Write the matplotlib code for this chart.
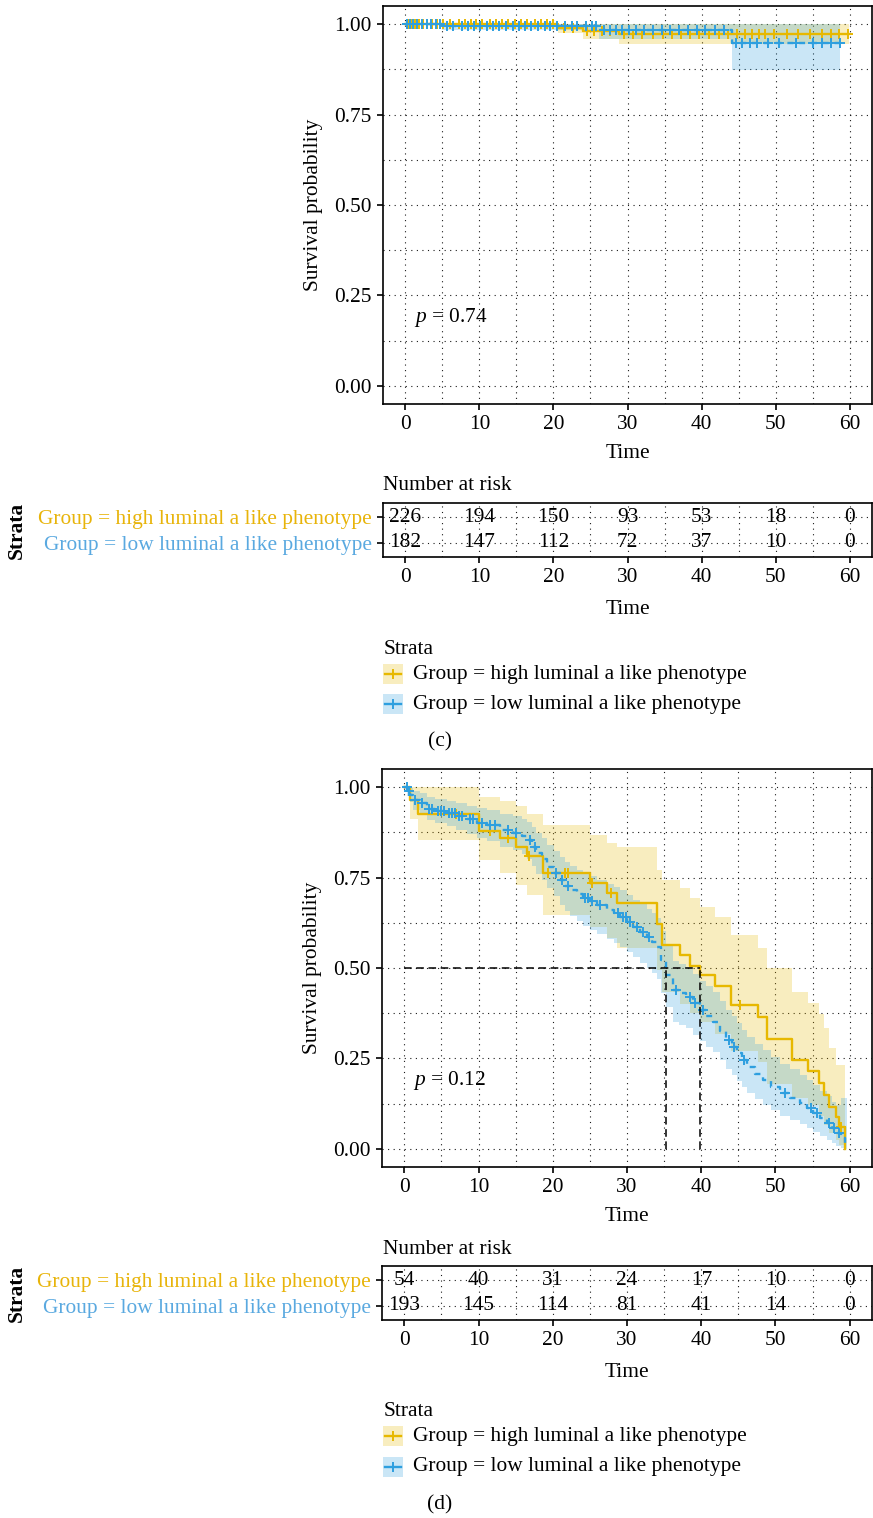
import numpy as np
import matplotlib
matplotlib.use("Agg")
import matplotlib.pyplot as plt
from matplotlib.patches import Rectangle

plt.rcParams['font.family'] = ['Liberation Serif', 'DejaVu Serif']
plt.rcParams['mathtext.fontset'] = 'custom'
plt.rcParams['mathtext.it'] = 'Liberation Serif:italic'
plt.rcParams['mathtext.rm'] = 'Liberation Serif'

# ---------------- data ----------------
group_labels = ["Group = high luminal a like phenotype",
                "Group = low luminal a like phenotype"]
risk_times = [0, 10, 20, 30, 40, 50, 60]

# Panel (c)
c_high_t = [0, 20.6, 24.0, 28.9]
c_high_s = [1.0, 0.988, 0.982, 0.972]
c_high_lo = [1.0, 0.975, 0.960, 0.944]
c_high_up = [1.0, 1.0, 1.0, 1.0]
c_high_end = 59.9
c_high_cens = [0.4, 0.8, 1.3, 1.8, 2.4, 3.0, 3.6, 4.3, 5.1, 6.0, 7.2, 8.0, 8.9, 9.6,
               10.4, 11.5, 12.3, 13.1, 13.9, 14.8, 15.6, 16.4, 17.5, 18.3, 19.1, 19.9,
               21.4, 22.6, 24.6, 25.5, 26.6, 27.7, 29.5, 30.8, 32.0, 33.5, 34.8, 36.0,
               37.2, 38.5, 39.7, 41.0, 42.3, 43.6, 44.8, 45.9, 46.8, 47.7, 48.6, 49.8,
               51.5, 53.0, 54.6, 56.2, 57.4, 58.5, 59.8]

c_low_t = [0, 5.0, 26.1, 44.1]
c_low_s = [1.0, 0.995, 0.985, 0.947]
c_low_lo = [1.0, 0.985, 0.958, 0.873]
c_low_up = [1.0, 1.0, 1.0, 1.0]
c_low_end = 58.7
c_low_cens = [0.2, 0.7, 1.1, 1.6, 2.2, 2.9, 3.5, 4.2, 4.7, 5.6, 6.4, 7.6, 8.5, 9.3,
              10.1, 11.0, 11.8, 12.7, 13.6, 14.5, 15.3, 16.2, 17.0, 17.9, 18.8, 19.6,
              20.5, 21.6, 22.5, 23.2, 24.4, 25.2, 25.8, 26.8, 27.6, 28.4, 29.3, 30.2,
              31.1, 32.2, 33.4, 34.6, 35.8, 37.0, 38.1, 39.4, 40.5, 41.8, 43.0, 44.6,
              45.5, 46.6, 47.5, 48.9, 50.4, 52.8, 55.0, 56.3, 57.5, 58.7]

c_risk_high = [226, 194, 150, 93, 53, 18, 0]
c_risk_low = [182, 147, 112, 72, 37, 10, 0]
c_pval = "0.74"

# Panel (d)
d_high_t = [0, 0.8, 1.9, 10.0, 12.9, 15.1, 16.5, 18.7, 25.0, 27.3, 28.6, 34.0, 34.7,
            37.1, 38.5, 39.8, 41.8, 44.0, 47.7, 48.8, 52.2, 54.4, 55.9, 56.6, 57.2,
            58.2, 58.5, 59.3]
d_high_s = [1.0, 0.963, 0.926, 0.880, 0.858, 0.835, 0.809, 0.762, 0.734, 0.706, 0.679,
            0.622, 0.564, 0.536, 0.505, 0.480, 0.450, 0.398, 0.365, 0.303, 0.246,
            0.214, 0.181, 0.149, 0.117, 0.089, 0.061, 0.0]
d_high_lo = [1.0, 0.913, 0.854, 0.798, 0.762, 0.729, 0.702, 0.646, 0.614, 0.584, 0.556,
             0.495, 0.435, 0.400, 0.375, 0.350, 0.318, 0.270, 0.240, 0.180, 0.140,
             0.120, 0.090, 0.065, 0.045, 0.025, 0.010, 0.0]
d_high_up = [1.0, 1.0, 1.0, 0.973, 0.962, 0.948, 0.927, 0.895, 0.867, 0.845, 0.835,
             0.771, 0.743, 0.720, 0.693, 0.669, 0.642, 0.590, 0.556, 0.500, 0.435,
             0.402, 0.374, 0.334, 0.280, 0.232, 0.232, 0.0]
d_high_end = 59.3
d_high_cens = [7.0, 11.5, 14.0, 16.8, 19.3, 21.6, 22.0, 25.3, 27.9, 45.2, 58.8]

d_low_t = [0, 0.4, 0.8, 1.2, 2.1, 3.0, 4.2, 5.7, 7.0, 8.4, 9.8, 11.1, 12.9, 14.7,
           15.8, 16.5, 17.2, 17.8, 18.5, 19.2, 20.1, 21.0, 21.7, 22.3, 23.2, 24.1,
           25.0, 25.9, 27.3, 28.2, 29.1, 30.0, 30.8, 31.8, 32.7, 33.4, 34.0, 34.6,
           35.2, 36.2, 37.0, 38.0, 38.9, 39.8, 40.7, 41.6, 42.5, 43.4, 44.1, 44.8,
           45.5, 46.1, 47.2, 48.3, 49.4, 50.6, 52.0, 53.3, 54.2, 55.1, 56.0, 56.9,
           57.6, 58.2, 58.8, 59.3]
d_low_s = [1.0, 0.990, 0.978, 0.964, 0.955, 0.940, 0.934, 0.928, 0.920, 0.911, 0.900,
           0.895, 0.881, 0.874, 0.864, 0.853, 0.835, 0.817, 0.800, 0.780, 0.762, 0.743,
           0.728, 0.715, 0.704, 0.693, 0.684, 0.674, 0.660, 0.651, 0.642, 0.628, 0.614,
           0.600, 0.586, 0.573, 0.559, 0.522, 0.481, 0.439, 0.430, 0.421, 0.402, 0.384,
           0.368, 0.352, 0.327, 0.301, 0.283, 0.264, 0.245, 0.227, 0.208, 0.190, 0.172,
           0.154, 0.140, 0.126, 0.112, 0.099, 0.085, 0.071, 0.057, 0.043, 0.030, 0.015]
d_low_lo = [1.0, 0.975, 0.958, 0.938, 0.926, 0.908, 0.900, 0.892, 0.882, 0.871, 0.858,
            0.852, 0.835, 0.826, 0.814, 0.801, 0.781, 0.761, 0.742, 0.720, 0.700, 0.675,
            0.658, 0.643, 0.630, 0.617, 0.606, 0.594, 0.579, 0.569, 0.559, 0.545, 0.530,
            0.515, 0.500, 0.486, 0.470, 0.432, 0.392, 0.352, 0.343, 0.334, 0.316, 0.298,
            0.283, 0.268, 0.245, 0.221, 0.204, 0.187, 0.170, 0.154, 0.138, 0.122, 0.107,
            0.092, 0.081, 0.069, 0.057, 0.047, 0.036, 0.026, 0.017, 0.009, 0.003, 0.0]
d_low_up = [1.0, 1.0, 0.998, 0.990, 0.985, 0.972, 0.968, 0.962, 0.956, 0.949, 0.941,
            0.937, 0.926, 0.921, 0.913, 0.904, 0.889, 0.873, 0.858, 0.840, 0.824, 0.807,
            0.793, 0.781, 0.771, 0.761, 0.753, 0.744, 0.731, 0.723, 0.715, 0.702, 0.689,
            0.676, 0.663, 0.651, 0.638, 0.602, 0.562, 0.520, 0.511, 0.502, 0.483, 0.465,
            0.450, 0.434, 0.410, 0.385, 0.367, 0.348, 0.329, 0.310, 0.290, 0.272, 0.253,
            0.235, 0.220, 0.205, 0.190, 0.176, 0.160, 0.145, 0.130, 0.120, 0.140, 0.140]
d_low_end = 59.6
d_low_cens = [0.3, 0.6, 1.5, 2.4, 3.3, 3.8, 4.5, 5.0, 5.3, 6.0, 6.4, 6.8, 7.4, 7.8,
              8.8, 9.2, 10.5, 11.5, 12.2, 14.0, 15.0, 17.0, 17.6, 20.5, 21.3, 22.0,
              24.4, 24.8, 25.3, 26.3, 28.8, 29.4, 29.8, 30.4, 31.3, 32.2, 33.0, 36.6,
              38.5, 39.2, 40.3, 43.7, 44.4, 45.8, 51.3, 54.8, 55.6, 57.2, 57.9, 58.5]

d_risk_high = [54, 40, 31, 24, 17, 10, 0]
d_risk_low = [193, 145, 114, 81, 41, 14, 0]
d_pval = "0.12"

# ---------------- styling ----------------
COL_HIGH = "#E7B800"
COL_LOW = "#2E9FDF"
TXT_HIGH = "#E8B40A"
TXT_LOW = "#5AA9E0"
FS = 15.4
GRID_LS = (0, (1, 4))

W, H = 873, 1518
fig = plt.figure(figsize=(W / 100, H / 100), dpi=100)


def rect(x0, y0, x1, y1):
    return [x0 / W, 1 - y1 / H, (x1 - x0) / W, (y1 - y0) / H]


def step_value(t, s, when):
    idx = np.searchsorted(np.asarray(t), np.asarray(when), side='right') - 1
    return np.asarray(s)[idx]


def style_axes(ax):
    for sp in ax.spines.values():
        sp.set_linewidth(1.2)
        sp.set_color('black')
    ax.tick_params(which='major', length=4, width=1.2, labelsize=FS, color='black',
                   pad=4)
    ax.tick_params(which='minor', length=0)


def km_axes(box, groups, pval, median=False):
    ax = fig.add_axes(rect(*box))
    ax.set_xlim(-3, 63)
    ax.set_ylim(-0.05, 1.05)
    ax.set_xticks(risk_times)
    ax.set_xticks([5, 15, 25, 35, 45, 55], minor=True)
    ax.set_yticks([0, 0.25, 0.5, 0.75, 1.0])
    ax.set_yticklabels(["0.00", "0.25", "0.50", "0.75", "1.00"])
    ax.set_yticks([0.125, 0.375, 0.625, 0.875], minor=True)
    ax.grid(which='both', color='black', linestyle=GRID_LS, linewidth=0.8, alpha=0.9)
    ax.set_axisbelow(True)
    style_axes(ax)
    medians = []
    for t, s, lo, up, end, cens, col, ls in groups:
        te = list(t) + [end]
        ax.fill_between(te, list(lo) + [lo[-1]], list(up) + [up[-1]], step='post',
                        color=col, alpha=0.25, linewidth=0, zorder=2)
    for t, s, lo, up, end, cens, col, ls in groups:
        te = list(t) + [end]
        se = list(s) + [s[-1]]
        ax.step(te, se, where='post', color=col, linewidth=1.7, linestyle=ls, zorder=3)
        ax.plot(cens, step_value(t, s, cens), linestyle='none', marker='+',
                markersize=7, markeredgewidth=1.4, color=col, zorder=4)
        below = [ti for ti, si in zip(t, s) if si <= 0.5]
        if below:
            medians.append(below[0])
    if median and medians:
        ax.plot([0, max(medians)], [0.5, 0.5], color='black', linestyle=(0, (5, 3)),
                linewidth=1.1, zorder=5)
        for m in medians:
            ax.plot([m, m], [0, 0.5], color='black', linestyle=(0, (5, 3)),
                    linewidth=1.1, zorder=5)
    ax.text(1.2, 0.19, "$p$ = " + pval, fontsize=FS, ha='left', va='center', zorder=6)
    ax.set_xlabel("Time", fontsize=FS, labelpad=7)
    ax.set_ylabel("Survival probability", fontsize=FS, labelpad=8)
    return ax


def risk_axes(box, high, low, title_y):
    ax = fig.add_axes(rect(*box))
    ax.set_xlim(-3, 63)
    ax.set_ylim(0.46, 2.54)
    ax.set_xticks(risk_times)
    ax.set_xticks([5, 15, 25, 35, 45, 55], minor=True)
    ax.set_yticks([2, 1])
    ax.set_yticklabels(group_labels)
    for lab, c in zip(ax.get_yticklabels(), [TXT_HIGH, TXT_LOW]):
        lab.set_color(c)
    ax.grid(which='both', color='black', linestyle=GRID_LS, linewidth=0.8, alpha=0.9)
    ax.set_axisbelow(True)
    style_axes(ax)
    for tx, a, b in zip(risk_times, high, low):
        ax.text(tx, 2, str(a), ha='center', va='center', fontsize=FS, zorder=3)
        ax.text(tx, 1, str(b), ha='center', va='center', fontsize=FS, zorder=3)
    ax.set_xlabel("Time", fontsize=FS, labelpad=9)
    ax.set_ylabel("Strata", fontsize=FS, fontweight='bold')
    ax.yaxis.set_label_coords((27 - box[0]) / (box[2] - box[0]), 0.5)
    fig.text(383 / W, 1 - title_y / H, "Number at risk", fontsize=FS,
             ha='left', va='center')
    return ax


# Panel (c)
km_axes((383, 6, 872, 404),
        [(c_high_t, c_high_s, c_high_lo, c_high_up, c_high_end, c_high_cens, COL_HIGH, '-'),
         (c_low_t, c_low_s, c_low_lo, c_low_up, c_low_end, c_low_cens, COL_LOW, (0, (2.5, 2.5)))],
        c_pval)
risk_axes((383, 503, 872, 557), c_risk_high, c_risk_low, 486)

# Panel (d)
km_axes((382, 769, 872, 1167),
        [(d_high_t, d_high_s, d_high_lo, d_high_up, d_high_end, d_high_cens, COL_HIGH, '-'),
         (d_low_t, d_low_s, d_low_lo, d_low_up, d_low_end, d_low_cens, COL_LOW, (0, (2.5, 2.5)))],
        d_pval, median=True)
risk_axes((382, 1266, 872, 1320), d_risk_high, d_risk_low, 1249)

# Legends and panel tags drawn on a pixel-space overlay
ov = fig.add_axes([0, 0, 1, 1], facecolor='none')
ov.set_xlim(0, W)
ov.set_ylim(H, 0)
ov.axis('off')


def legend_block(y_title, y1, y2, tag, y_tag):
    ov.text(384, y_title, "Strata", fontsize=FS, ha='left', va='center')
    for yy, col, lab in [(y1, COL_HIGH, group_labels[0]), (y2, COL_LOW, group_labels[1])]:
        ov.add_patch(Rectangle((383, yy - 10), 20, 20, facecolor=col, alpha=0.25,
                               edgecolor='none'))
        ov.plot([385, 401], [yy, yy], color=col, linewidth=1.7)
        ov.plot([393], [yy], marker='+', markersize=7, markeredgewidth=1.4, color=col)
        ov.text(413, yy, lab, fontsize=FS, ha='left', va='center')
    ov.text(440, y_tag, tag, fontsize=FS, ha='center', va='center')


legend_block(650, 674, 704, "(c)", 742)
legend_block(1412, 1436, 1467, "(d)", 1505)

fig.savefig("out.png", dpi=100)
